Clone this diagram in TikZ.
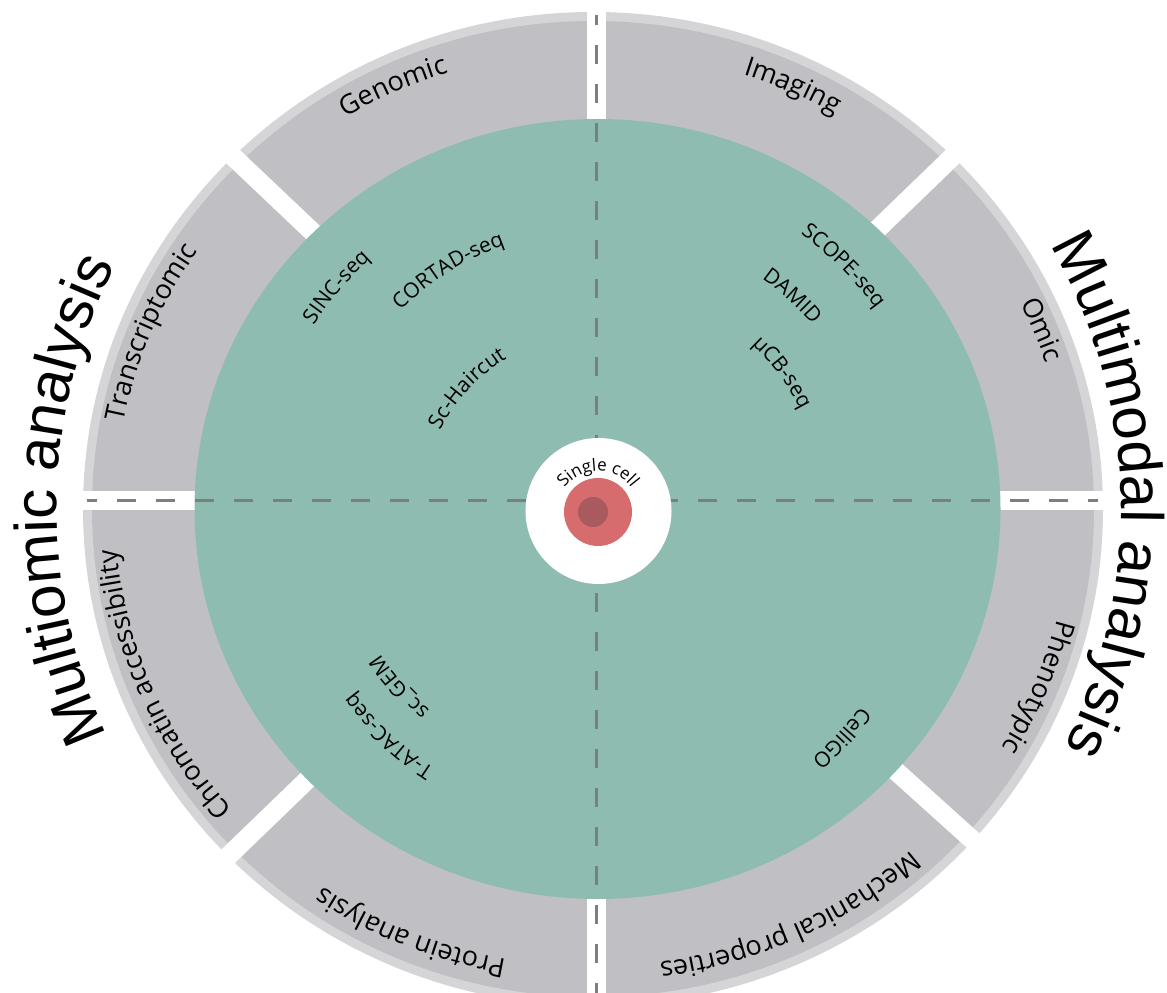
\documentclass[tikz,border=0pt]{standalone}
\usepackage{fontspec}
\setmainfont{Open Sans}
\newfontfamily\titlefont{Liberation Sans}
\usetikzlibrary{decorations.text,calc}
\definecolor{ringgray}{RGB}{192,192,196}
\definecolor{rimgray}{RGB}{213,213,216}
\definecolor{tealgreen}{RGB}{143,188,177}
\definecolor{dashgray}{RGB}{122,127,128}
\definecolor{cellred}{RGB}{214,108,110}
\definecolor{nucleuscol}{RGB}{168,90,95}
\newcommand{\outerlbl}{\fontsize{27}{27}\selectfont}
\newcommand{\innerlbl}{\fontsize{21}{21}\selectfont}
\newcommand{\celllbl}{\fontsize{17}{17}\selectfont}
\newcommand{\bigtitle}{\titlefont\fontsize{60}{60}\selectfont}
\begin{document}
\begin{tikzpicture}[x=1pt,y=1pt,
  gapline/.style={white,line width=19},
  dashline/.style={dashgray,line width=3,dash pattern=on 19 off 20,dash phase=9},
  arctext/.style={decorate,decoration={text along path,text align=center,text={#1}}}]
\useasboundingbox (0,0) rectangle (1167,993);
\coordinate (R) at (593,484);
\coordinate (G) at (597.5,484);
\coordinate (X) at (596,492);
\coordinate (C) at (598.5,482);
% ring
\fill[rimgray] (R) ellipse [x radius=510, y radius=497];
\fill[ringgray] (R) ellipse [x radius=501, y radius=488];
% gaps
\foreach \a in {0,44,90,136.5,180,224,270,318}
  \draw[gapline] (X) -- ++(\a:640);
% green disk
\fill[tealgreen] (G) ellipse [x radius=403, y radius=390];
% dashed cross
\coordinate (topend) at (596,978);
\coordinate (botend) at (596,0);
\coordinate (leftend) at (87,492);
\coordinate (rightend) at (1098,492);
\draw[dashline] (topend) -- (X);
\draw[dashline] (botend) -- (X);
\draw[dashline] (leftend) -- (X);
\draw[dashline] (rightend) -- (X);
% central cell
\fill[white] (C) circle[radius=73];
\node[circle,fill=cellred,minimum size=68,inner sep=0] (cell) at (598,481) {};
\node[circle,fill=nucleuscol,minimum size=30,inner sep=0] (nuc) at (593,481) {};
\path[arctext={|\celllbl|Single cell}] ($(cell)+(175:41)$) arc[start angle=175,end angle=5,radius=41];
% outer labels
\path[arctext={|\outerlbl|Genomic}] ($(R)+(137:478 and 458)$) arc[start angle=137,end angle=92,x radius=478,y radius=458];
\path[arctext={|\outerlbl|Imaging}] ($(R)+(88:478 and 458)$) arc[start angle=88,end angle=43,x radius=478,y radius=458];
\path[arctext={|\outerlbl|Omic}] ($(R)+(45:478 and 458)$) arc[start angle=45,end angle=0,x radius=478,y radius=458];
\path[arctext={|\outerlbl|Phenotypic}] ($(R)+(0:478 and 458)$) arc[start angle=0,end angle=-45,x radius=478,y radius=458];
\path[arctext={|\outerlbl|Mechanical properties}] ($(R)+(-40:478 and 458)$) arc[start angle=-40,end angle=-90,x radius=478,y radius=458];
\path[arctext={|\outerlbl|Protein analysis}] ($(R)+(-90:478 and 458)$) arc[start angle=-90,end angle=-135,x radius=478,y radius=458];
\path[arctext={|\outerlbl|Chromatin accessibility}] ($(R)+(226:478 and 458)$) arc[start angle=226,end angle=180,x radius=478,y radius=458];
\path[arctext={|\outerlbl|Transcriptomic}] ($(R)+(180:478 and 458)$) arc[start angle=180,end angle=135,x radius=478,y radius=458];
% inner labels
\path[arctext={|\innerlbl|SINC-seq}] ($(C)+(179.5:340)$) arc[start angle=179.5,end angle=99.5,radius=340];
\path[arctext={|\innerlbl|CORTAD-seq}] ($(C)+(162:282)$) arc[start angle=162,end angle=82,radius=282];
\path[arctext={|\innerlbl|Sc-Haircut}] ($(C)+(177:178)$) arc[start angle=177,end angle=97,radius=178];
\path[arctext={|\innerlbl|SCOPE-seq}] ($(C)+(85:343)$) arc[start angle=85,end angle=5,radius=343];
\path[arctext={|\innerlbl|DAMID}] ($(C)+(88:284)$) arc[start angle=88,end angle=8,radius=284];
\path[arctext={|\innerlbl|μCB-seq}] ($(C)+(77:226)$) arc[start angle=77,end angle=-3,radius=226];
\path[arctext={|\innerlbl|sc{\_}GEM}] ($(C)+(261.5:261)$) arc[start angle=261.5,end angle=181.5,radius=261];
\path[arctext={|\innerlbl|T-ATAC-seq}] ($(C)+(267:305)$) arc[start angle=267,end angle=187,radius=305];
\path[arctext={|\innerlbl|CelliGO}] ($(C)+(-3:327)$) arc[start angle=-3,end angle=-83,radius=327];
% titles
\path[arctext={|\bigtitle|Multiomic analysis}] ($(R)+(209:536)$) arc[start angle=209,end angle=149,radius=536];
\path[arctext={|\bigtitle|Multimodal analysis}] ($(R)+(31.6:528)$) arc[start angle=31.6,end angle=-28.4,radius=528];
\end{tikzpicture}
\end{document}
